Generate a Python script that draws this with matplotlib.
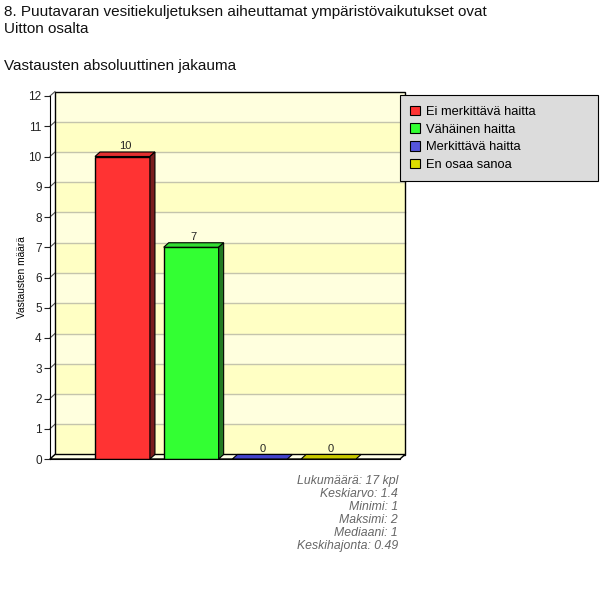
import matplotlib
matplotlib.use('Agg')
import matplotlib.pyplot as plt
from matplotlib.patches import Polygon, Rectangle, Patch

plt.rcParams['font.family'] = ['Liberation Sans', 'DejaVu Sans']

# data
categories = ['Ei merkittävä haitta', 'Vähäinen haitta', 'Merkittävä haitta', 'En osaa sanoa']
counts = [10, 7, 0, 0]
front_colors = ['#FF3333', '#33FF33', '#5555DD', '#DDDD00']
side_colors = ['#7A1E1E', '#237A23', '#2A2A80', '#808000']
top_colors = ['#E23030', '#33DD33', '#4444CC', '#C8C800']
stats = ['Lukumäärä: 17 kpl', 'Keskiarvo: 1.4', 'Minimi: 1',
         'Maksimi: 2', 'Mediaani: 1', 'Keskihajonta: 0.49']

W, H = 600, 596
fig = plt.figure(figsize=(6.0, 5.96), dpi=100)
fig.patch.set_facecolor('white')

# front frame in pixels: x 50..400, y 96..459
ax = fig.add_axes([50 / W, 1 - 459 / H, 350 / W, 363 / H])
xmin, xmax = -1.055, 4.04
ymin, ymax = 0, 12
ax.set_xlim(xmin, xmax)
ax.set_ylim(ymin, ymax)

px_x = (xmax - xmin) / 350.0
px_y = (ymax - ymin) / 363.0
dx = 5 * px_x
dy = 4.5 * px_y

# back wall bands
for i in range(12):
    col = '#FFFFC4' if i % 2 == 0 else '#FFFFDE'
    ax.add_patch(Rectangle((xmin + dx, i + dy), xmax - xmin, 1, facecolor=col,
                           edgecolor='none', zorder=0, clip_on=False))
# grid lines on wall + diagonals on left
for i in range(1, 12):
    ax.plot([xmin + dx, xmax + dx], [i + dy, i + dy], color='#C4C4AC', lw=1,
            zorder=0.5, clip_on=False)
for i in range(0, 13):
    ax.plot([xmin, xmin + dx], [i, i + dy], color='#555555', lw=0.8,
            zorder=0.6, clip_on=False)
# wall border
ax.add_patch(Rectangle((xmin + dx, dy), xmax - xmin, 12, facecolor='none',
                       edgecolor='black', lw=1, zorder=0.7, clip_on=False))
# floor
ax.add_patch(Polygon([(xmin, 0), (xmin + dx, dy), (xmax + dx, dy), (xmax, 0)],
                     closed=True, facecolor='#FFFFE8', edgecolor='black', lw=1,
                     zorder=0.8, clip_on=False))

# bars
bw = 0.8
x = list(range(len(categories)))
ax.bar(x, counts, width=bw, color=front_colors, edgecolor='black', lw=1, zorder=2)
for xi, v, sc, tc in zip(x, counts, side_colors, top_colors):
    x0, x1 = xi - bw / 2, xi + bw / 2
    ax.add_patch(Polygon([(x0, v), (x0 + dx, v + dy), (x1 + dx, v + dy), (x1, v)],
                         closed=True, facecolor=tc, edgecolor='black', lw=0.8,
                         zorder=2.1, clip_on=False))
    if v > 0:
        ax.add_patch(Polygon([(x1, 0), (x1 + dx, dy), (x1 + dx, v + dy), (x1, v)],
                             closed=True, facecolor=sc, edgecolor='black', lw=0.8,
                             zorder=2.1, clip_on=False))
    ax.text(xi + dx / 2, v + dy + 0.03, str(v), ha='center', va='bottom',
            fontsize=8, color='#222222', zorder=3)

# axes styling
for s in ['top', 'right']:
    ax.spines[s].set_visible(False)
ax.spines['left'].set_color('black')
ax.spines['bottom'].set_color('black')
ax.spines['left'].set_zorder(3)
ax.spines['bottom'].set_zorder(3)
ax.set_xticks([])
ax.set_yticks(range(0, 13))
ax.tick_params(axis='y', length=4, width=0.8, labelsize=8.5, pad=2, colors='#222222')
ax.set_facecolor('none')
ax.set_ylabel('Vastausten määrä', fontsize=7.3, labelpad=1)

# legend
handles = [Patch(facecolor=c, edgecolor='black', lw=0.8) for c in front_colors]
leg = fig.legend(handles, categories, loc='upper left',
                 bbox_to_anchor=(400 / W, 1 - 96 / H, 198 / W, 0.001), mode='expand',
                 fontsize=9.3, frameon=True, fancybox=False, handlelength=0.75,
                 handleheight=0.75, handletextpad=0.45, labelspacing=0.42,
                 borderpad=0.8, borderaxespad=0)
leg.get_frame().set_facecolor('#DCDCDC')
leg.get_frame().set_edgecolor('black')
leg.get_frame().set_linewidth(0.8)
leg.get_frame().set_alpha(1)

# titles
fig.text(4 / W, 1 - 12 / H, '8. Puutavaran vesitiekuljetuksen aiheuttamat ympäristövaikutukset ovat',
         fontsize=11, va='center', ha='left', color='#111111')
fig.text(4 / W, 1 - 29 / H, 'Uitton osalta', fontsize=11, va='center', ha='left',
         color='#111111')
fig.text(4 / W, 1 - 66 / H, 'Vastausten absoluuttinen jakauma', fontsize=11,
         va='center', ha='left', color='#111111')

# stats
for i, s in enumerate(stats):
    fig.text(398 / W, 1 - (481 + 13 * i) / H, s, fontsize=8.8, style='italic',
             color='#666666', ha='right', va='center')

fig.savefig('out.png', dpi=100)
